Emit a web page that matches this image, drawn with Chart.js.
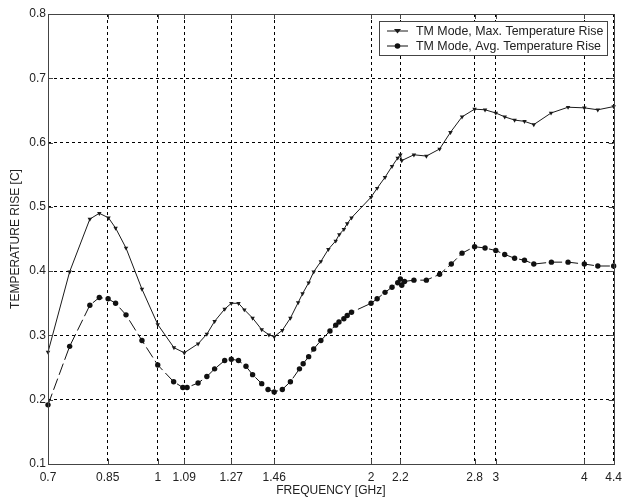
<!DOCTYPE html>
<html lang="en">
  <head>
    <meta charset="UTF-8" />
    <title>Temperature Rise vs Frequency</title>
    <script src="https://cdn.jsdelivr.net/npm/chart.js@4.4.0/dist/chart.umd.min.js"></script>
    <style>
      body { margin: 0; background: #fff; }
    </style>
  </head>
  <body>
    <canvas id="chart" width="628" height="497"></canvas>
    <script>
      // frequencies in GHz, temperature rise in C
      const freqMax = [0.7, 0.751, 0.802, 0.827, 0.852, 0.872, 0.902, 0.95, 1.0, 1.054, 1.09, 1.14, 1.173, 1.203, 1.243, 1.27, 1.3, 1.325, 1.361, 1.402, 1.435, 1.46, 1.499, 1.539, 1.578, 1.601, 1.633, 1.66, 1.699, 1.741, 1.783, 1.804, 1.831, 1.851, 1.877, 2.0, 2.04, 2.093, 2.141, 2.181, 2.2, 2.21, 2.299, 2.394, 2.499, 2.589, 2.688, 2.8, 2.897, 3.0, 3.088, 3.189, 3.293, 3.394, 3.59, 3.794, 4.0, 4.179, 4.4]
      const tempMax = [0.274, 0.399, 0.481, 0.49, 0.483, 0.467, 0.436, 0.372, 0.317, 0.281, 0.273, 0.287, 0.302, 0.322, 0.341, 0.35, 0.35, 0.34, 0.327, 0.309, 0.301, 0.298, 0.308, 0.327, 0.351, 0.365, 0.382, 0.399, 0.415, 0.434, 0.447, 0.457, 0.465, 0.474, 0.483, 0.515, 0.529, 0.546, 0.563, 0.576, 0.581, 0.572, 0.581, 0.579, 0.59, 0.616, 0.64, 0.652, 0.651, 0.646, 0.64, 0.635, 0.633, 0.628, 0.646, 0.655, 0.654, 0.651, 0.656]
      const freqAvg = [0.7, 0.751, 0.802, 0.827, 0.851, 0.872, 0.902, 0.95, 1.0, 1.053, 1.085, 1.1, 1.14, 1.173, 1.203, 1.243, 1.27, 1.3, 1.332, 1.361, 1.402, 1.431, 1.46, 1.499, 1.539, 1.585, 1.604, 1.633, 1.66, 1.699, 1.75, 1.783, 1.802, 1.831, 1.851, 1.877, 2.0, 2.04, 2.093, 2.141, 2.181, 2.2, 2.21, 2.23, 2.299, 2.394, 2.499, 2.596, 2.688, 2.8, 2.897, 3.0, 3.088, 3.189, 3.293, 3.394, 3.594, 3.794, 4.0, 4.179, 4.4]
      const tempAvg = [0.192, 0.283, 0.347, 0.359, 0.357, 0.35, 0.332, 0.292, 0.254, 0.228, 0.219, 0.219, 0.226, 0.236, 0.248, 0.261, 0.263, 0.261, 0.252, 0.239, 0.225, 0.216, 0.212, 0.216, 0.228, 0.248, 0.256, 0.267, 0.279, 0.292, 0.307, 0.316, 0.321, 0.326, 0.331, 0.336, 0.35, 0.357, 0.367, 0.375, 0.382, 0.388, 0.378, 0.384, 0.386, 0.386, 0.395, 0.411, 0.428, 0.438, 0.436, 0.432, 0.426, 0.42, 0.417, 0.411, 0.414, 0.414, 0.411, 0.408, 0.408]
      const xTicks = [0.7, 0.85, 1, 1.09, 1.27, 1.46, 2, 2.2, 2.8, 3, 4, 4.4]
      const yTicks = [0.1, 0.2, 0.3, 0.4, 0.5, 0.6, 0.7, 0.8]

      const FONT = 'Liberation Sans, Arial, sans-serif'
      const TEXT = '#222'
      const SIZE = 12

      const toPoints = (xs, ys) => xs.map((x, i) => ({ x: x, y: ys[i] }))

      // draws the boxed axes with inward tick marks, like the original plot
      const frame = {
        id: 'frame',
        afterDatasetsDraw(chart) {
          const { ctx, chartArea: a, scales } = chart
          ctx.save()
          ctx.strokeStyle = '#444'
          ctx.lineWidth = 1
          ctx.beginPath()
          xTicks.forEach((t) => {
            const px = Math.round(scales.x.getPixelForValue(t)) + 0.5
            ctx.moveTo(px, a.bottom); ctx.lineTo(px, a.bottom - 5)
            ctx.moveTo(px, a.top); ctx.lineTo(px, a.top + 5)
          })
          yTicks.forEach((t) => {
            const py = Math.round(scales.y.getPixelForValue(t)) + 0.5
            ctx.moveTo(a.left, py); ctx.lineTo(a.left + 5, py)
            ctx.moveTo(a.right, py); ctx.lineTo(a.right - 5, py)
          })
          ctx.stroke()
          ctx.strokeRect(Math.round(a.left) + 0.5, Math.round(a.top) + 0.5,
            Math.round(a.right - a.left), Math.round(a.bottom - a.top))
          ctx.restore()
        },
      }

      // legend box in the upper right corner of the plot
      const boxLegend = {
        id: 'boxLegend',
        afterDraw(chart) {
          const { ctx, chartArea: a } = chart
          const x0 = Math.round(a.right) - 6.5
          const left = 379.5
          const top = Math.round(a.top) + 7.5
          ctx.save()
          ctx.fillStyle = '#fff'
          ctx.strokeStyle = '#444'
          ctx.lineWidth = 1
          ctx.fillRect(left, top, x0 - left, 34)
          ctx.strokeRect(left, top, x0 - left, 34)
          ctx.font = '12.4px ' + FONT
          ctx.textBaseline = 'middle'
          chart.data.datasets.forEach((ds, i) => {
            const y = top + 9.5 + i * 15
            ctx.strokeStyle = ds.borderColor
            ctx.beginPath()
            ctx.moveTo(387, y); ctx.lineTo(408, y)
            ctx.stroke()
            ctx.fillStyle = ds.borderColor
            ctx.beginPath()
            if (ds.pointStyle === 'triangle') {
              ctx.moveTo(394, y - 2); ctx.lineTo(401, y - 2); ctx.lineTo(397.5, y + 2.5)
            } else {
              ctx.arc(397.5, y, 2.8, 0, Math.PI * 2)
            }
            ctx.fill()
            ctx.fillStyle = TEXT
            ctx.fillText(ds.label, 416, y + 0.5)
          })
          ctx.restore()
        },
      }

      const ctx = document.getElementById('chart')
      const chart = new Chart(ctx, {
        type: 'line',
        data: {
          datasets: [
            {
              label: 'TM Mode, Max. Temperature Rise',
              data: toPoints(freqMax, tempMax),
              borderColor: '#1a1a1a',
              backgroundColor: '#1a1a1a',
              borderWidth: 1,
              pointStyle: 'triangle',
              pointRotation: 180,
              pointRadius: 2.6,
              pointBorderWidth: 0,
              tension: 0,
              clip: false,
            },
            {
              label: 'TM Mode, Avg. Temperature Rise',
              data: toPoints(freqAvg, tempAvg),
              borderColor: '#111',
              backgroundColor: '#111',
              borderWidth: 1,
              borderDash: [12, 4],
              pointStyle: 'circle',
              pointRadius: 2.7,
              pointBorderWidth: 0,
              tension: 0,
              clip: false,
            },
          ],
        },
        options: {
          responsive: false,
          animation: false,
          layout: { padding: { top: 14, right: 8, left: 0, bottom: 0 } },
          font: { family: FONT },
          plugins: {
            legend: { display: false },
            tooltip: { enabled: false },
          },
          scales: {
            x: {
              type: 'logarithmic',
              min: 0.7,
              max: 4.4,
              afterBuildTicks: (scale) => {
                scale.ticks = xTicks.map((v) => ({ value: v }))
              },
              afterFit: (scale) => {
                scale.height = 33
              },
              ticks: {
                autoSkip: false,
                maxRotation: 0,
                padding: 6,
                color: TEXT,
                font: { family: FONT, size: SIZE },
                callback: (v) => String(v),
              },
              grid: { color: '#000', lineWidth: 1, drawTicks: false },
              border: { display: false, dash: [3, 3] },
              title: {
                display: true,
                text: 'FREQUENCY [GHz]',
                color: TEXT,
                font: { family: FONT, size: SIZE, lineHeight: 1 },
                padding: { top: 0, bottom: 0 },
              },
            },
            y: {
              min: 0.1,
              max: 0.8,
              afterBuildTicks: (scale) => {
                scale.ticks = yTicks.map((v) => ({ value: v }))
              },
              afterFit: (scale) => {
                scale.width = 48
              },
              ticks: {
                padding: 2,
                color: TEXT,
                font: { family: FONT, size: SIZE },
                callback: (v) => v.toFixed(1),
              },
              grid: { color: '#000', lineWidth: 1, drawTicks: false },
              border: { display: false, dash: [3, 3] },
              title: {
                display: true,
                text: 'TEMPERATURE RISE [C]',
                color: TEXT,
                font: { family: FONT, size: SIZE, lineHeight: 1 },
                padding: { top: 10, bottom: 0 },
              },
            },
          },
        },
        plugins: [frame, boxLegend],
      })
    </script>
  </body>
</html>
